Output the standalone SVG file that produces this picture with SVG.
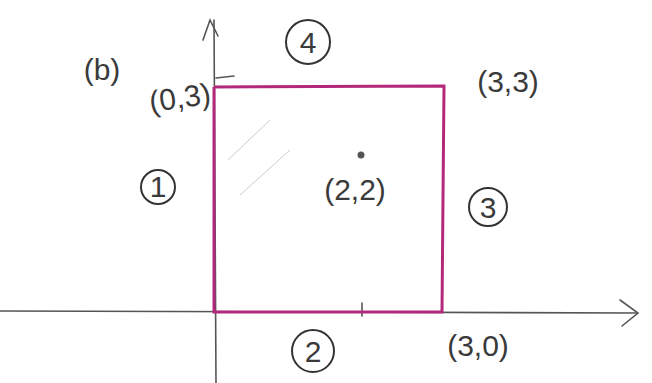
<svg xmlns="http://www.w3.org/2000/svg" width="652" height="383" viewBox="0 0 652 383">
<style>
.ax{stroke:#555;stroke-width:1.6;fill:none;stroke-linecap:round}
.sq{stroke:#b2287a;stroke-width:3;fill:none}
.t{font-family:"Liberation Sans","DejaVu Sans",sans-serif;font-size:30px;fill:#3a3a3a}
.c{stroke:#333;stroke-width:2;fill:none}
.h{stroke:#ccc;stroke-width:1}
</style>
<rect width="652" height="383" fill="#fff"/>
<g id="connectors">
<line class="ax" x1="214" y1="20" x2="216" y2="383"/>
<polyline class="ax" points="203,40 210,20 218,36"/>
<line class="ax" x1="0" y1="311" x2="636" y2="313"/>
<polyline class="ax" points="620,300 638,313 622,326"/>
<line class="ax" x1="216" y1="78" x2="234" y2="76"/>
<line class="ax" x1="362" y1="303" x2="362" y2="316"/>
<line class="h" x1="228" y1="160" x2="270" y2="120"/>
<line class="h" x1="240" y1="195" x2="290" y2="150"/>
</g>
<g id="square">
<polyline class="sq" points="214,87 444,86 442,312 214,312 214,87"/>
</g>
<g id="n4"><circle class="c" cx="308" cy="42" r="22"/><text class="t" x="308" y="53" text-anchor="middle">4</text></g>
<g id="nb"><text class="t" x="102" y="80" text-anchor="middle">(b)</text></g>
<g id="n03"><text class="t" x="180" y="108" text-anchor="middle" transform="rotate(-8 180 98)">(0,3)</text></g>
<g id="n33"><text class="t" x="508" y="92" text-anchor="middle">(3,3)</text></g>
<g id="n22"><circle cx="361" cy="155" r="3.5" fill="#555"/><text class="t" x="355" y="200" text-anchor="middle">(2,2)</text></g>
<g id="n1"><circle class="c" cx="158" cy="187" r="17"/><text class="t" x="158" y="197" text-anchor="middle">1</text></g>
<g id="n3"><circle class="c" cx="488" cy="207" r="19"/><text class="t" x="488" y="218" text-anchor="middle">3</text></g>
<g id="n2"><circle class="c" cx="313" cy="351" r="21"/><text class="t" x="313" y="362" text-anchor="middle">2</text></g>
<g id="n30"><text class="t" x="478" y="356" text-anchor="middle">(3,0)</text></g>
</svg>
